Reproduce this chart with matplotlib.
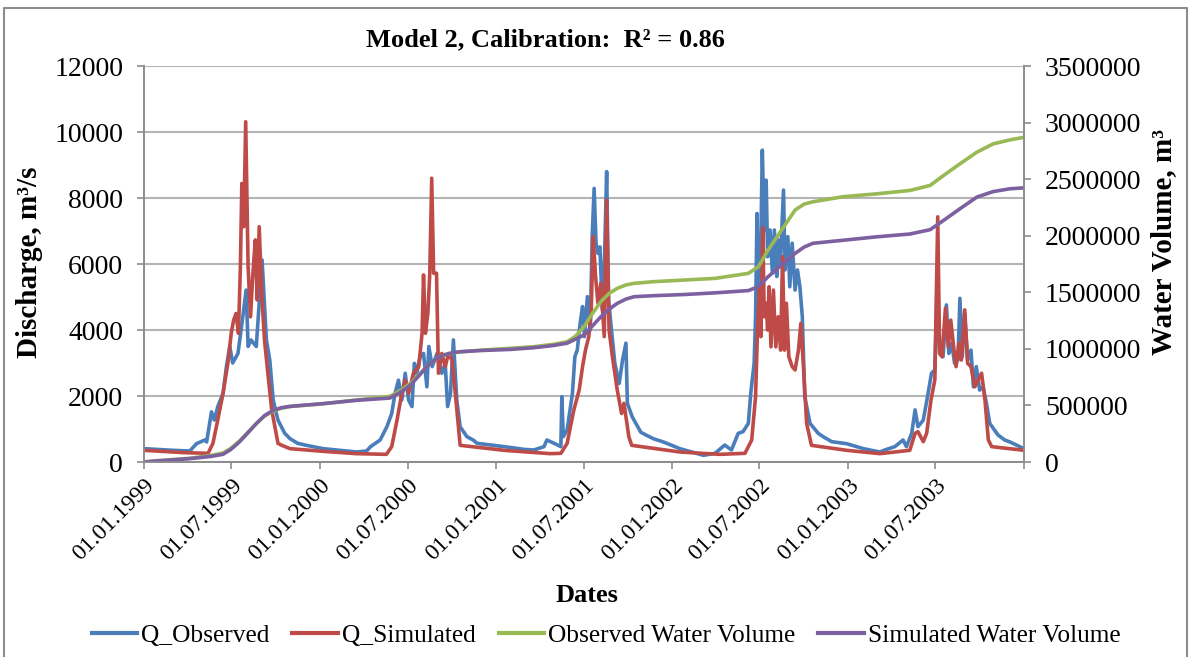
import numpy as np
import pandas as pd
import matplotlib
matplotlib.use('Agg')
import matplotlib.pyplot as plt
import matplotlib.ticker as mticker
from matplotlib.lines import Line2D

plt.rcParams['font.family'] = ['Liberation Serif', 'DejaVu Serif']

# day offsets counted from 01.01.1999
obs_day = [0, 30, 61, 95, 109, 126, 130, 140, 146, 153, 164, 171, 178, 184, 195, 205, 212, 216, 222, 233,
           245, 254, 261, 268, 278, 292, 303, 319, 337, 372, 407, 441, 462,
           470, 490, 504, 514, 521, 528, 535, 542, 549, 556, 561, 566, 573, 580, 587, 591, 598, 608, 618,
           625, 630, 636, 642, 649, 656, 670, 684, 691, 753, 790, 809,
           830, 836, 851, 865, 867, 870, 878, 889, 894, 899, 905, 910, 914, 920, 926, 930, 934, 938, 942,
           946, 951, 956, 960, 964, 970, 977, 986, 993, 1000, 1003, 1013, 1031, 1043, 1058, 1078, 1112,
           1161, 1185, 1205, 1219, 1233, 1243, 1254, 1259, 1266, 1269, 1272, 1275, 1279, 1283, 1287, 1291,
           1294, 1299, 1304, 1308, 1313, 1316, 1320, 1327, 1330, 1336, 1340, 1345, 1351, 1356, 1361, 1366,
           1371, 1382, 1399, 1410, 1427, 1458, 1493, 1527,
           1537, 1558, 1575, 1582, 1593, 1600, 1606, 1617, 1627, 1634, 1641, 1646, 1651, 1658, 1665, 1670,
           1676, 1682, 1689, 1693, 1698, 1703, 1709, 1716, 1721, 1727, 1734, 1741, 1748, 1755, 1772, 1786,
           1797, 1826]
obs_q = [404, 380, 354, 333, 555, 667, 606, 1520, 1270, 1677, 2080, 2890, 3500, 3000, 3290, 4400, 5210, 3500, 3700, 3500,
         6120, 3700, 3090, 1880, 1270, 870, 707, 565, 505, 404, 354, 303, 333,
         465, 667, 1070, 1470, 2080, 2480, 1880, 2690, 1880, 1680, 2990, 2690, 3190, 3290, 2280, 3500, 2890, 3290, 2690,
         2990, 1680, 2080, 3700, 1880, 1070, 768, 657, 566, 455, 380, 364,
         465, 667, 566, 465, 1980, 768, 970, 2080, 3190, 3390, 4200, 4710, 3800, 5010, 4000, 6830, 8290, 6630, 6320,
         6520, 4610, 6420, 8800, 4910, 4000, 2990, 2380, 3090, 3600, 1780, 1370, 900, 808, 700, 606, 404,
         202, 263, 515, 364, 869, 919, 1170, 2080, 2990, 4400, 7530, 4610, 5820, 9450, 7030, 8540,
         6220, 7030, 5720, 7030, 5620, 6730, 5920, 8240, 5820, 6830, 5310, 6630, 5210, 5820, 5310, 4400,
         1980, 1170, 869, 760, 616, 555, 404, 303,
         364, 465, 667, 465, 869, 1580, 1070, 1270, 2080, 2690, 2790, 5500, 3290, 3190, 4760, 3290,
         3600, 2990, 3090, 4960, 3190, 4500, 3090, 3390, 2280, 2890, 2180, 2280, 1780, 1170, 818, 667,
         606, 404]

sim_day = [0, 84, 133, 143, 153, 164, 174, 181, 186, 191, 196, 200, 203, 207, 211, 216, 221, 226, 231, 235,
           239, 245, 250, 257, 265, 278, 286, 303, 372, 441, 503,
           514, 525, 535, 542, 549, 559, 570, 577, 580, 584, 589, 593, 597, 601, 607, 611, 618, 625, 632,
           639, 646, 656, 750, 843,
           865, 878, 892, 903, 910, 916, 923, 928, 932, 937, 942, 948, 955, 960, 965, 972, 982, 991, 996,
           1006, 1012, 1112, 1195, 1247,
           1261, 1269, 1273, 1277, 1280, 1284, 1287, 1291, 1294, 1297, 1301, 1306, 1311, 1316, 1321, 1325,
           1329, 1333, 1338, 1345, 1351, 1358, 1363, 1368, 1375, 1385, 1458, 1527,
           1589, 1600, 1606, 1617, 1624, 1633, 1641, 1647, 1651, 1656, 1663, 1669, 1674, 1680, 1685, 1691,
           1696, 1703, 1709, 1716, 1724, 1731, 1738, 1745, 1752, 1759, 1826]
sim_q = [354, 283, 263, 565, 1270, 2080, 2990, 3900, 4300, 4500, 3900, 5920, 8440, 7130, 10310, 5920, 4400, 5720, 6730, 4910,
         7130, 4910, 3700, 2690, 1580, 565, 505, 404, 323, 253, 232,
         465, 1270, 2080, 2480, 2080, 2690, 2890, 3900, 5670, 3900, 4500, 5720, 8600, 5720, 5720, 2690, 3290, 2890, 3290,
         3090, 2080, 505, 350, 253,
         263, 566, 1580, 2180, 2890, 3390, 3800, 4610, 6830, 5620, 4810, 5410, 3800, 7940, 4000, 3190, 2180, 1470, 1780,
         768, 505, 303, 232, 263,
         667, 1980, 4000, 5310, 3800, 7100, 4400, 4810, 4000, 5310, 3490, 5210, 3490, 4400, 3390, 6220,
         3390, 4810, 3190, 2890, 2790, 3390, 4200, 2990, 1170, 505, 354, 253,
         354, 869, 919, 616, 869, 1880, 2490, 7430, 3290, 3190, 4660, 3490, 4300, 3490, 2890, 3600,
         3090, 4610, 2990, 2890, 2280, 2490, 2690, 1880, 667, 465, 354]

vol_day = [0, 30, 95, 140, 164, 180, 198, 215, 233, 250, 268, 285, 303, 372, 441, 510, 530, 553, 570, 587,
           605, 622, 640, 656, 698, 760, 809, 850, 878, 895, 913, 930, 948, 965, 982, 1000, 1017, 1058,
           1120, 1185, 1254, 1275, 1295, 1323, 1351, 1370, 1388, 1451, 1520, 1589, 1631, 1659, 1693, 1728,
           1762, 1797, 1826]
vol_obs = [0, 12000, 33000, 58000, 80000, 120000, 185000, 260000, 340000, 405000, 450000, 475000, 490000,
           515000, 548000, 580000, 625000, 695000, 770000, 843000, 905000, 946000, 963000, 973000, 988000,
           1005000, 1019000, 1040000, 1063000, 1110000, 1196000, 1310000, 1417000, 1490000, 1535000, 1565000,
           1579000, 1594000, 1608000, 1623000, 1667000, 1726000, 1874000, 2050000, 2227000, 2280000, 2300000,
           2345000, 2370000, 2400000, 2444000, 2532000, 2635000, 2738000, 2812000, 2847000, 2870000]
vol_sim = [0, 10000, 29500, 50000, 68000, 110000, 177000, 255000, 339000, 410000, 457000, 480000, 492000,
           516000, 545000, 565000, 610000, 680000, 760000, 843000, 905000, 946000, 965000, 975000, 985000,
           995000, 1010000, 1030000, 1050000, 1085000, 1122000, 1200000, 1284000, 1350000, 1402000, 1440000,
           1461000, 1470000, 1480000, 1495000, 1515000, 1550000, 1638000, 1741000, 1844000, 1900000, 1933000,
           1960000, 1990000, 2015000, 2053000, 2135000, 2238000, 2341000, 2390000, 2415000, 2423000]

tick_dates = ['1999-01-01', '1999-07-01', '2000-01-01', '2000-07-01', '2001-01-01', '2001-07-01',
              '2002-01-01', '2002-07-01', '2003-01-01', '2003-07-01', '2004-01-01']
tick_labels = ['01.01.1999', '01.07.1999', '01.01.2000', '01.07.2000', '01.01.2001', '01.07.2001',
               '01.01.2002', '01.07.2002', '01.01.2003', '01.07.2003', '']

start = pd.Timestamp('1999-01-01')
def to_dates(days):
    return start + pd.to_timedelta(days, unit='D')

c_obs = '#4A7EBB'
c_sim = '#BE4B48'
c_vobs = '#98B954'
c_vsim = '#7D60A0'
grey = '#8C8C8C'

fig = plt.figure(figsize=(11.91, 6.57), dpi=100)
ax = fig.add_axes([144 / 1191, 195 / 657, 880 / 1191, 396 / 657])

ax.plot(to_dates(obs_day), obs_q, color=c_obs, lw=2.6, solid_joinstyle='round')
ax.plot(to_dates(sim_day), sim_q, color=c_sim, lw=2.6, solid_joinstyle='round')
ax.set_ylim(0, 12000)
ax.set_yticks(np.arange(0, 12001, 2000))
ax.set_xlim(start, pd.Timestamp('2004-01-01'))
ax.set_xticks(pd.to_datetime(tick_dates))
ax.set_xticklabels(tick_labels, rotation=45, ha='right', rotation_mode='anchor', fontsize=17)
ax.grid(axis='y', color='#B4B4B4', lw=1.5)
ax.set_axisbelow(True)

ax2 = ax.twinx()
ax2.plot(to_dates(vol_day), vol_obs, color=c_vobs, lw=2.6)
ax2.plot(to_dates(vol_day), vol_sim, color=c_vsim, lw=2.6)
ax2.set_ylim(0, 3500000)
ax2.set_yticks(np.arange(0, 3500001, 500000))
ax2.yaxis.set_major_formatter(mticker.StrMethodFormatter('{x:.0f}'))
ax2.set_xlim(start, pd.Timestamp('2004-01-01'))

for a in (ax, ax2):
    a.spines['top'].set_visible(False)
    for s in ('left', 'right', 'bottom'):
        a.spines[s].set_color(grey)
        a.spines[s].set_linewidth(1.2)
    a.tick_params(colors=grey, labelcolor='black', length=5, width=1.2, direction='out')
    a.tick_params(axis='y', labelsize=20)
ax.tick_params(axis='x', pad=4)
ax.tick_params(axis='y', pad=10)
ax2.tick_params(axis='y', pad=10)

fig.text(545 / 1191, 1 - 40 / 657, 'Model 2, Calibration:  R² = 0.86', ha='center', va='center',
         fontsize=19, fontweight='bold')
fig.text(30 / 1191, 1 - 262 / 657, 'Discharge, m³/s', rotation=90, ha='center', va='center',
         fontsize=21, fontweight='bold')
fig.text(1164 / 1191, 1 - 242 / 657, 'Water Volume, m³', rotation=90, ha='center', va='center',
         fontsize=21, fontweight='bold')
fig.text(587 / 1191, 1 - 595 / 657, 'Dates', ha='center', va='center', fontsize=19, fontweight='bold')

handles = [Line2D([], [], color=c, lw=3) for c in (c_obs, c_sim, c_vobs, c_vsim)]
fig.legend(handles, ['Q_Observed', 'Q_Simulated', 'Observed Water Volume', 'Simulated Water Volume'],
           loc='center', bbox_to_anchor=(606 / 1191, 1 - 636 / 657), ncol=4, frameon=False,
           fontsize=18.3, handlelength=1.8, handletextpad=0.15, columnspacing=0.9)

# grey frame around the chart area
fig.add_artist(Line2D([4 / 1191, 4 / 1191, 1187 / 1191, 1187 / 1191], [0, 1 - 8 / 657, 1 - 8 / 657, 0],
                      transform=fig.transFigure, color='#8C8C8C', lw=1.5))

fig.savefig('out.png', dpi=100)
